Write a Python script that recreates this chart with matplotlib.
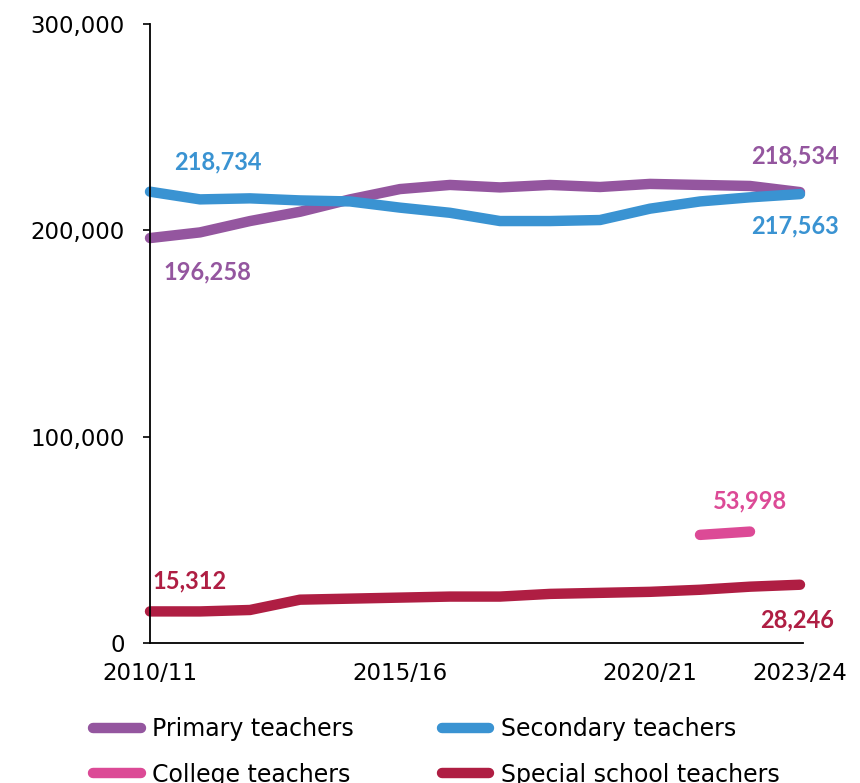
import matplotlib
matplotlib.use("Agg")
import matplotlib.pyplot as plt
import numpy as np

plt.rcParams['font.family'] = ['DejaVu Sans']

years = ['2010/11', '2011/12', '2012/13', '2013/14', '2014/15', '2015/16', '2016/17',
         '2017/18', '2018/19', '2019/20', '2020/21', '2021/22', '2022/23', '2023/24']
primary = [196258, 199000, 204500, 209000, 215000, 220000, 222000,
           220800, 222000, 221000, 222500, 222000, 221500, 218534]
secondary = [218734, 215000, 215500, 214500, 214000, 211000, 208500,
             204500, 204500, 205000, 210500, 214000, 216000, 217563]
college = [None] * 11 + [52400, 53998, None]
special = [15312, 15300, 16000, 21000, 21500, 22000, 22500,
           22500, 23800, 24300, 24800, 25800, 27300, 28246]

series = [('Primary teachers', primary, '#94569f'),
          ('Secondary teachers', secondary, '#3a93d2'),
          ('College teachers', college, '#dc4a96'),
          ('Special school teachers', special, '#af1e43')]

fig = plt.figure(figsize=(8.6, 7.83), dpi=100)
ax = fig.add_axes([150/860, 1-643/783, 653/860, 619/783])

x = np.arange(len(years))
handles = []
for name, vals, col in series:
    y = np.array([np.nan if v is None else v for v in vals], dtype=float)
    ln, = ax.plot(x, y, color=col, lw=7.5, solid_capstyle='round', clip_on=False, label=name)
    handles.append(ln)

ax.set_xlim(0, 13.06)
ax.set_ylim(0, 300000)
ax.set_yticks([0, 100000, 200000, 300000])
ax.set_yticklabels(['0', '100,000', '200,000', '300,000'], fontsize=16.5)
ax.set_xticks([0, 5, 10, 13])
ax.set_xticklabels([years[0], years[5], years[10], years[13]], fontsize=16.5)
ax.tick_params(axis='x', length=0, pad=14)
ax.tick_params(axis='y', length=5, width=1.2, pad=13)
for s in ['top', 'right']:
    ax.spines[s].set_visible(False)
for s in ['left', 'bottom']:
    ax.spines[s].set_linewidth(1.3)

lab = dict(fontsize=17, fontweight='bold', ha='center', va='center', family=['Lato', 'DejaVu Sans'])
ax.text(1.35, 233000, f'{secondary[0]:,}', color='#3a93d2', **lab)
ax.text(1.15, 180000, f'{primary[0]:,}', color='#94569f', **lab)
ax.text(12.9, 236000, f'{primary[-1]:,}', color='#94569f', **lab)
ax.text(12.9, 202000, f'{secondary[-1]:,}', color='#3a93d2', **lab)
ax.text(12.0, 69000, f'{college[12]:,}', color='#dc4a96', **lab)
ax.text(0.8, 30000, f'{special[0]:,}', color='#af1e43', **lab)
ax.text(12.95, 11000, f'{special[-1]:,}', color='#af1e43', **lab)

# legend fills column-wise, so reorder to read row-wise
order = [0, 2, 1, 3]
fig.legend(handles=[handles[i] for i in order], loc='upper left',
           bbox_to_anchor=(84/860, 1-708/783),
           ncol=2, frameon=False, fontsize=17, handlelength=2.0, handletextpad=0.5,
           columnspacing=3.7, labelspacing=0.9, borderaxespad=0)

fig.savefig('out.png', dpi=100)
